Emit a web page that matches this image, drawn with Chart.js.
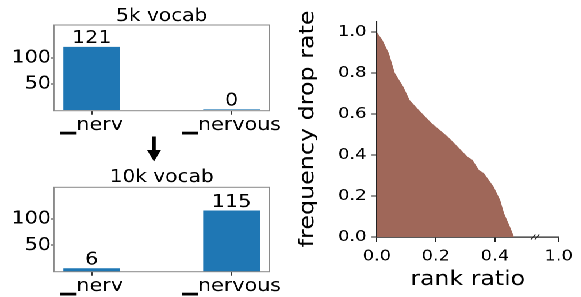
<!DOCTYPE html>
<html><head><meta charset="utf-8">
<script src="https://cdn.jsdelivr.net/npm/chart.js@4.4.1/dist/chart.umd.min.js"></script>
<style>
html,body{margin:0;padding:0;background:#fff;overflow:hidden;width:581px;height:297px;}
#wrap{position:absolute;left:0;top:0;width:581px;height:297px;transform-origin:0 0;}
canvas{position:absolute;}
</style></head><body>
<div id="wrap">
<canvas id="cA"></canvas><canvas id="cB"></canvas><canvas id="cC"></canvas>
</div>
<script>
// ---- data ----
const categories = ['▁nerv', '▁nervous'];
const counts5k = [121, 0];
const counts10k = [6, 115];
const countTicks = [50, 100];
const rankRatio = [0, 0.019, 0.041, 0.061, 0.090, 0.111, 0.142, 0.186, 0.241, 0.263, 0.307, 0.324, 0.346, 0.363, 0.396, 0.418, 0.431, 0.451, 0.465];
const dropRate  = [1.0, 0.961, 0.896, 0.800, 0.733, 0.668, 0.620, 0.555, 0.489, 0.457, 0.392, 0.376, 0.327, 0.311, 0.245, 0.180, 0.116, 0.050, 0.0];
const rankTicks = [0, 0.2, 0.4];
const rankTickLabels = ['0.0', '0.2', '0.4', '1.0'];
const dropTicks = [0, 0.2, 0.4, 0.6, 0.8, 1.0];
const xTitle = 'rank ratio';
const yTitle = 'frequency drop rate';

// ---- layout ----
const S = 1.15;      // horizontal stretch of text in the reference
const FONT = "'DejaVu Sans', sans-serif";
const BREAK_TICK = 0.616; // axis position where the "1.0" tick is drawn after the break
Chart.defaults.font.family = FONT;
Chart.defaults.color = '#000';
document.getElementById('wrap').style.transform = 'scaleX(' + S + ')';

function place(id, leftT, top, w, h) {
  const c = document.getElementById(id);
  c.width = w; c.height = h;
  c.style.left = (leftT / S) + 'px'; c.style.top = top + 'px';
  c.style.width = w + 'px'; c.style.height = h + 'px';
  return c;
}
const wA = 252, wC = 253;
const cA = place('cA', 0, 0, wA, 165);
const cB = place('cB', 0, 165, wA, 132);
const cC = place('cC', 290, 0, wC, 297);

const boxPlugin = {
  id: 'box',
  afterDraw(chart) {
    const {ctx, chartArea: a} = chart;
    ctx.save();
    ctx.strokeStyle = '#8a8a8a'; ctx.lineWidth = 1;
    ctx.strokeRect(a.left, a.top, a.right - a.left, a.bottom - a.top);
    ctx.restore();
  }
};
const barLabelPlugin = {
  id: 'barLabels',
  afterDatasetsDraw(chart) {
    const {ctx} = chart;
    const ds = chart.data.datasets[0].data;
    ctx.save();
    ctx.font = '18px ' + FONT; ctx.fillStyle = '#000';
    ctx.textAlign = 'center'; ctx.textBaseline = 'alphabetic';
    chart.getDatasetMeta(0).data.forEach((bar, i) => {
      ctx.fillText(String(ds[i].y), bar.x, bar.y - 4);
    });
    ctx.restore();
  }
};
const arrowPlugin = {
  id: 'arrow',
  afterDraw(chart) {
    const {ctx} = chart;
    const cx = 154 / S;
    ctx.save();
    ctx.fillStyle = '#000';
    ctx.fillRect(cx - 1.7 / S, 136.5, 3.4 / S, 15);
    ctx.beginPath();
    ctx.moveTo(cx - 7 / S, 150); ctx.lineTo(cx + 7 / S, 150); ctx.lineTo(cx, 161.5); ctx.closePath();
    ctx.fill();
    ctx.restore();
  }
};
const breakPlugin = {
  id: 'axisBreak',
  afterDraw(chart) {
    const {ctx} = chart;
    const xs = chart.scales.x;
    const y = chart.chartArea.bottom;
    ctx.save();
    ctx.strokeStyle = '#222'; ctx.lineWidth = 1;
    [0.5296, 0.5428].forEach(v => {
      const x = xs.getPixelForValue(v);
      ctx.beginPath();
      ctx.moveTo(x - 2.2 / S, y + 2.5); ctx.lineTo(x + 2.2 / S, y - 2.5);
      ctx.stroke();
    });
    ctx.restore();
  }
};
// y-axis title: drawn rotated, stretched along its length like the other texts
const yTitlePlugin = {
  id: 'yTitle',
  afterDraw(chart) {
    const {ctx, chartArea: a} = chart;
    ctx.save();
    ctx.translate((313.3 - 290) / S, (a.top + a.bottom) / 2 - 0.5);
    ctx.scale(1 / S, 1);
    ctx.rotate(-Math.PI / 2);
    ctx.scale(1.19, 1);
    ctx.font = '20px ' + FONT; ctx.fillStyle = '#000';
    ctx.textAlign = 'center'; ctx.textBaseline = 'alphabetic';
    ctx.fillText(yTitle, 0, 0);
    ctx.restore();
  }
};

function barChart(canvas, title, values, yMin, yMax, titlePad, axisH) {
  return new Chart(canvas, {
    type: 'bar',
    data: {datasets: [{
      data: categories.map((c, i) => ({x: i, y: values[i]})),
      backgroundColor: '#1f77b4', borderWidth: 0, barThickness: 56 / S
    }]},
    options: {
      responsive: false, animation: false, devicePixelRatio: 2,
      layout: {padding: {left: 0, top: 0, bottom: 0, right: wA - 269.3 / S}},
      plugins: {
        legend: {display: false}, tooltip: {enabled: false},
        title: {display: true, text: title, fullSize: false, color: '#000',
          font: {family: FONT, size: 17.5, lineHeight: 1, weight: 'normal'}, padding: titlePad}
      },
      scales: {
        x: {
          type: 'linear', min: -0.27, max: 1.27, offset: false,
          afterBuildTicks: s => { s.ticks = categories.map((c, i) => ({value: i})); },
          ticks: {callback: (v, i) => categories[i], color: '#000', maxRotation: 0, autoSkip: false,
            font: {family: FONT, size: 18, lineHeight: 1}, padding: 1.8},
          grid: {display: true, offset: false, drawOnChartArea: false, drawTicks: true, tickLength: 4, tickColor: '#333', color: '#333'},
          border: {display: false},
          afterFit: s => { s.height = axisH; }
        },
        y: {
          min: yMin, max: yMax,
          afterBuildTicks: s => { s.ticks = countTicks.map(v => ({value: v})); },
          ticks: {color: '#000', font: {family: FONT, size: 18, lineHeight: 1}, padding: 0},
          grid: {display: true, drawOnChartArea: false, drawTicks: true, tickLength: 3 / S, tickColor: '#333', color: '#333'},
          border: {display: false},
          afterFit: s => { s.width = 54 / S; }
        }
      }
    },
    plugins: [boxPlugin, barLabelPlugin].concat(canvas === cA ? [arrowPlugin] : [])
  });
}

barChart(cA, '5k vocab', counts5k, -2, 164, {top: 7.5, bottom: 0}, 165 - 110.7);
barChart(cB, '10k vocab', counts10k, 0, 159.5, {top: 3.5, bottom: 1.3}, 132 - 106.7);

new Chart(cC, {
  type: 'line',
  data: {datasets: [{
    data: rankRatio.map((r, i) => ({x: r, y: dropRate[i]})),
    fill: 'origin', backgroundColor: '#9f6759', borderColor: 'rgba(0,0,0,0)', borderWidth: 0,
    pointRadius: 0, tension: 0
  }]},
  options: {
    responsive: false, animation: false, devicePixelRatio: 2,
    layout: {padding: {left: 0, top: 21.75, bottom: 0, right: wC - (563.3 - 290) / S}},
    plugins: {legend: {display: false}, tooltip: {enabled: false}},
    scales: {
      x: {
        type: 'linear', min: 0, max: BREAK_TICK,
        afterBuildTicks: s => { s.ticks = rankTicks.concat([BREAK_TICK]).map(v => ({value: v})); },
        ticks: {callback: (v, i) => rankTickLabels[i], color: '#000', maxRotation: 0, autoSkip: false,
          font: {family: FONT, size: 15.5, lineHeight: 1}, padding: 6.85},
        grid: {display: true, drawOnChartArea: false, drawTicks: true, tickLength: 5, tickColor: '#222', color: '#222'},
        border: {display: true, color: '#222', width: 1.2},
        title: {display: true, text: xTitle, color: '#000',
          font: {family: FONT, size: 20.5, lineHeight: 1}, padding: {top: 0, bottom: 7}},
        afterFit: s => { s.height = 60; }
      },
      y: {
        min: 0, max: 1.05,
        afterBuildTicks: s => { s.ticks = dropTicks.map(v => ({value: v})); },
        ticks: {callback: v => v.toFixed(1), color: '#000',
          font: {family: FONT, size: 15.5, lineHeight: 1}, padding: 5 / S},
        grid: {display: true, drawOnChartArea: false, drawTicks: true, tickLength: 5.3 / S, tickColor: '#222', color: '#222'},
        border: {display: true, color: '#222', width: 1.2 / S},
        title: {display: false, text: yTitle},
        afterFit: s => { s.width = (377 - 290) / S; }
      }
    }
  },
  plugins: [breakPlugin, yTitlePlugin]
});
</script>
</body></html>
